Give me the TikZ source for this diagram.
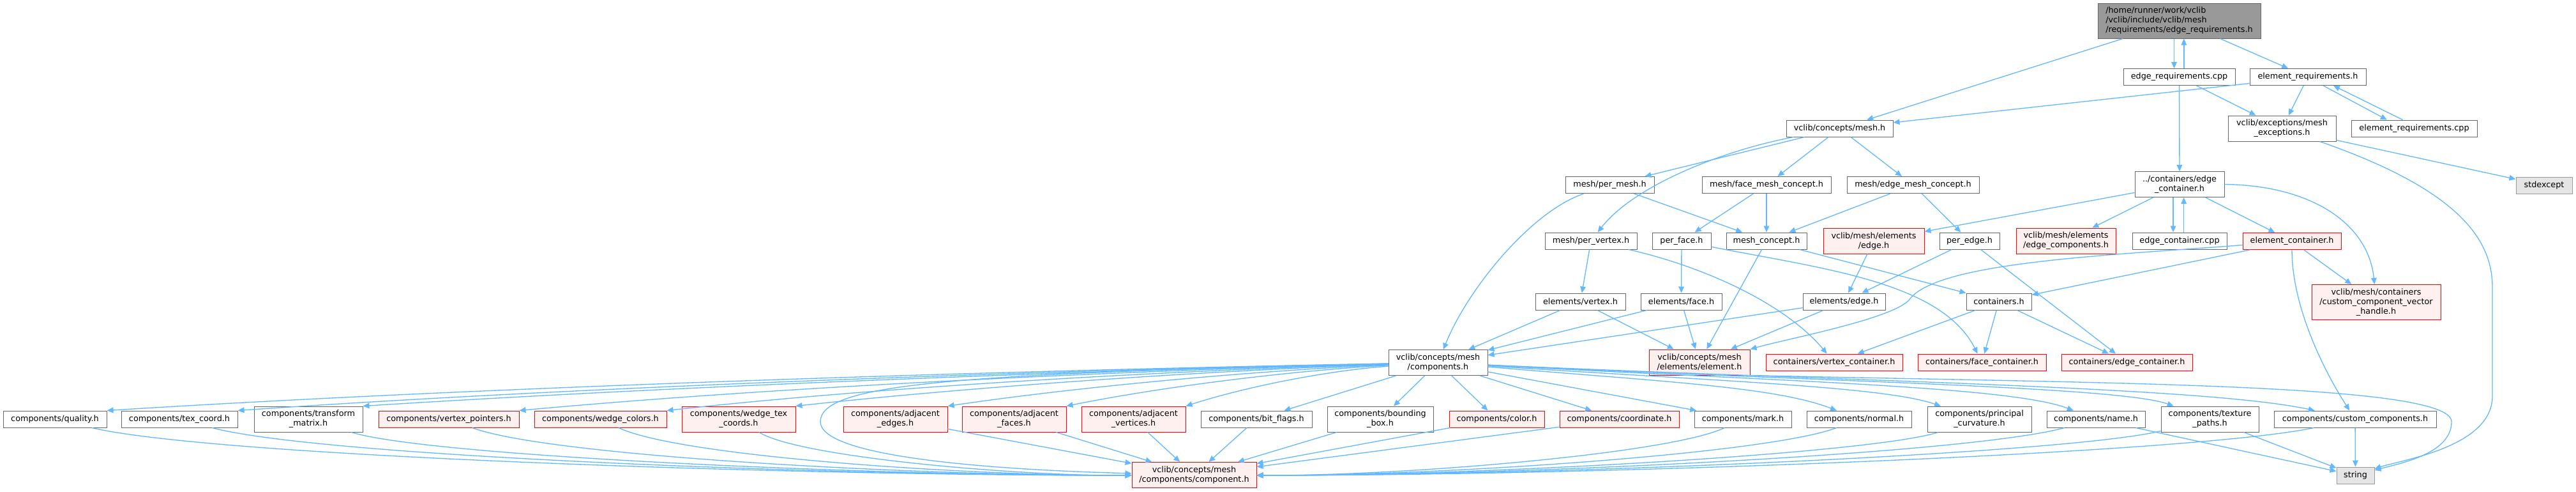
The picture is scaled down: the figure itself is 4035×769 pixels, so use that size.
\documentclass[tikz,border=0pt]{standalone}
\usepackage{fontspec}
\setmainfont{DejaVu Sans}
\usepackage{tikz}
\usetikzlibrary{arrows.meta}

\definecolor{depblue}{HTML}{63B8FF}
\definecolor{boxframe}{HTML}{666666}
\definecolor{rootfill}{HTML}{999999}
\definecolor{sysfill}{HTML}{E5E5E5}
\definecolor{sysframe}{HTML}{999999}
\definecolor{redfill}{HTML}{FFF0F0}

\tikzset{
  file/.style={draw=boxframe, fill=white, line width=0.75pt, inner sep=0pt, align=center,
    minimum height=19.5pt, font=\fontsize{9.6}{11.25}\selectfont},
  wd/.style={minimum width=#1*0.75pt},
  two/.style={minimum height=30pt},
  three/.style={minimum height=41.25pt},
  redfile/.style={file, draw=red, fill=redfill},
  rootfile/.style={file, draw=boxframe, fill=rootfill, align=left},
  sysfile/.style={file, draw=sysframe, fill=sysfill},
  dep/.style={draw=depblue, line width=1pt, -{Triangle[length=7.5pt,width=6.5pt]}},
}

\begin{document}
\begin{tikzpicture}[x=0.75pt, y=-0.75pt]
        \useasboundingbox (0,0) rectangle (4035,769);

        % Header and the files right below it
        \node[rootfile, wd=255, three] (top) at (3413.5,32.5) {/home/runner/work/vclib\\/vclib/include/vclib/mesh\\/requirements/edge\_requirements.h};
        \node[file, wd=175] (erc) at (3413.5,120.5) {edge\_requirements.cpp};
        \node[file, wd=182] (elr) at (3615,120.5) {element\_requirements.h};
        \node[file, wd=167] (cm) at (2881.5,201) {vclib/concepts/mesh.h};
        \node[file, wd=169, two] (exc) at (3574.5,201) {vclib/exceptions/mesh\\\_exceptions.h};
        \node[file, wd=197] (elrcpp) at (3781.5,201) {element\_requirements.cpp};
        \node[sysfile, wd=88] (stdexc) at (3985,290) {stdexcept};

        % Mesh concepts and containers
        \node[file, wd=139] (permesh) at (2521.5,289.5) {mesh/per\_mesh.h};
        \node[file, wd=202] (facemc) at (2767,289.5) {mesh/face\_mesh\_concept.h};
        \node[file, wd=207] (edgemc) at (2996.5,289.5) {mesh/edge\_mesh\_concept.h};
        \node[file, wd=140, two] (edgecont) at (3414,288.5) {../containers/edge\\\_container.h};

        \node[file, wd=144] (pervert) at (2492,377) {mesh/per\_vertex.h};
        \node[file, wd=92] (perface) at (2634,377) {per\_face.h};
        \node[file, wd=126] (meshc) at (2767,377) {mesh\_concept.h};
        \node[redfile, wd=158, two] (eledge) at (2935,377) {vclib/mesh/elements\\/edge.h};
        \node[file, wd=94] (peredge) at (3085,377) {per\_edge.h};
        \node[redfile, wd=156, two] (edgecomp) at (3236,377) {vclib/mesh/elements\\/edge\_components.h};
        \node[file, wd=148] (edgecontcpp) at (3414,377) {edge\_container.cpp};
        \node[redfile, wd=154] (elemcont) at (3590,377.5) {element\_container.h};

        \node[file, wd=141] (elvert) at (2475.5,472) {elements/vertex.h};
        \node[file, wd=127] (elface) at (2633.5,472) {elements/face.h};
        \node[file, wd=129] (eledgeh) at (2888.5,472) {elements/edge.h};
        \node[file, wd=102] (conts) at (3131,472) {containers.h};
        \node[redfile, wd=202, three] (ccvh) at (3722,473) {vclib/mesh/containers\\/custom\_component\_vector\\\_handle.h};

        \node[file, wd=155, two] (comps) at (2252.5,567.5) {vclib/concepts/mesh\\/components.h};
        \node[redfile, wd=158, two] (element) at (2662,567) {vclib/concepts/mesh\\/elements/element.h};
        \node[redfile, wd=214] (vertcont) at (2873,567) {containers/vertex\_container.h};
        \node[redfile, wd=201] (facecont) at (3104.5,567) {containers/face\_container.h};
        \node[redfile, wd=205] (edgecontr) at (3331.5,567) {containers/edge\_container.h};

        % Row of components
        \node[file, wd=162] (cquality) at (86,656) {components/quality.h};
        \node[file, wd=182] (ctexcoord) at (281,656) {components/tex\_coord.h};
        \node[file, wd=170, two] (ctransform) at (483,656) {components/transform\\\_matrix.h};
        \node[redfile, wd=220] (cvertptr) at (703,656) {components/vertex\_pointers.h};
        \node[redfile, wd=207] (cwedgecol) at (940.5,656) {components/wedge\_colors.h};
        \node[redfile, wd=178, two] (cwedgetex) at (1157,656) {components/wedge\_tex\\\_coords.h};
        \node[redfile, wd=163, two] (cadjedges) at (1402.5,656) {components/adjacent\\\_edges.h};
        \node[redfile, wd=163, two] (cadjfaces) at (1588.5,656) {components/adjacent\\\_faces.h};
        \node[redfile, wd=163, two] (cadjverts) at (1775.5,656) {components/adjacent\\\_vertices.h};
        \node[file, wd=174] (cbitflags) at (1968,656) {components/bit\_flags.h};
        \node[file, wd=166, two] (cbbox) at (2162,656) {components/bounding\\\_box.h};
        \node[redfile, wd=149] (ccolor) at (2344.5,656) {components/color.h};
        \node[redfile, wd=187] (ccoord) at (2536.5,656) {components/coordinate.h};
        \node[file, wd=152] (cmark) at (2730,656) {components/mark.h};
        \node[file, wd=164] (cnormal) at (2912,656) {components/normal.h};
        \node[file, wd=163, two] (cprincurv) at (3100.5,656) {components/principal\\\_curvature.h};
        \node[file, wd=154] (cname) at (3283,656) {components/name.h};
        \node[file, wd=153, two] (ctexpaths) at (3461.5,656) {components/texture\\\_paths.h};
        \node[file, wd=254] (ccustom) at (3689,656) {components/custom\_components.h};

        % Bottom row
        \node[redfile, wd=195, two] (comp) at (1870.5,743.5) {vclib/concepts/mesh\\/components/component.h};
        \node[sysfile, wd=59] (str) at (3689.5,744) {string};

        % Drawing the includes of the header
        \draw[dep] ([xshift=-6pt]top.south) -- ([xshift=-6pt]erc.north);
        \draw[dep] ([xshift=5.5pt]erc.north) -- ([xshift=5.5pt]top.south);
        \draw[dep] (top) -- (cm);
        \draw[dep] (top) -- (elr);
        \draw[dep] (erc) -- (exc);
        \draw[dep] (erc) -- (edgecont);
        \draw[dep] (elr) -- (cm);
        \draw[dep] (elr) -- (exc);
        \draw[dep] ([xshift=18pt]elr.south) -- ([xshift=-32pt]elrcpp.north);
        \draw[dep] ([xshift=-13.5pt]elrcpp.north) -- ([xshift=30pt]elr.south);
        \draw[dep] (exc) -- (stdexc);
        \draw[dep] (exc) .. controls (3860,300) and (3904,380) .. (3904,450) -- (3904,620) .. controls (3904,700) and (3760,720) .. (str);

        % Drawing the mesh concept includes
        \draw[dep] (cm) -- (permesh);
        \draw[dep] (cm) .. controls (2700,235) and (2560,290) .. (pervert);
        \draw[dep] (cm) -- (facemc);
        \draw[dep] (cm) -- (edgemc);
        \draw[dep] (permesh) .. controls (2400,330) and (2300,450) .. (comps);
        \draw[dep] (permesh) -- (meshc);
        \draw[dep] (facemc) -- (perface);
        \draw[dep] (facemc) -- (meshc);
        \draw[dep] (edgemc) -- (meshc);
        \draw[dep] (edgemc) -- (peredge);

        % Drawing the edge container includes
        \draw[dep] (edgecont) -- (eledge);
        \draw[dep] (edgecont) -- (edgecomp);
        \draw[dep] ([xshift=-7.5pt]edgecont.south) -- ([xshift=-7.5pt]edgecontcpp.north);
        \draw[dep] ([xshift=5pt]edgecontcpp.north) -- ([xshift=5pt]edgecont.south);
        \draw[dep] (edgecont) -- (elemcont);
        \draw[dep] (edgecont.east) .. controls (3620,290) and (3710,350) .. (ccvh);

        \draw[dep] (pervert) -- (elvert);
        \draw[dep] (pervert) .. controls (2680,420) and (2800,480) .. (vertcont);
        \draw[dep] (perface) -- (elface);
        \draw[dep] (perface) .. controls (2850,420) and (3040,440) .. (facecont);
        \draw[dep] (meshc) -- (element);
        \draw[dep] (meshc) -- (conts);
        \draw[dep] (eledge) -- (eledgeh);
        \draw[dep] (peredge) -- (eledgeh);
        \draw[dep] (peredge) -- (edgecontr);
        \draw[dep] (elemcont) -- (conts);
        \draw[dep] (elemcont) .. controls (3300,400) and (3030,410) .. (2990,470) .. controls (2960,500) and (2800,530) .. (element.north east);
        \draw[dep] (elemcont) -- (ccvh);
        \draw[dep] (elemcont) .. controls (3590,480) and (3640,580) .. (ccustom);

        \foreach \n in {elvert, elface, eledgeh}
        {
        \draw[dep] (\n) -- (comps);
        \draw[dep] (\n) -- (element);
        }
        \foreach \n in {vertcont, facecont, edgecontr}
        {
        \draw[dep] (conts) -- (\n);
        }
        \draw[dep] (element.south east) .. controls (3300,600) and (3840,600) .. (3840,660) .. controls (3840,710) and (3760,725) .. (str);

        % Drawing the components includes, left side
        \foreach \n/\xr in {cquality/167, ctexcoord/372, ctransform/568, cvertptr/813, cwedgecol/1044, cwedgetex/1246, cadjedges/1484, cadjfaces/1670, cadjverts/1857}
        {
        \draw[dep] (comps) .. controls ({2175-0.3*(2175-\xr)},580) and ({\xr+0.3*(2175-\xr)},605) .. (\n.north east);
        }
        \draw[dep] (comps) .. controls (1500,585) and (1285,600) .. (1285,660) .. controls (1285,715) and (1550,735) .. (comp);

        % Drawing the components includes, right side
        \foreach \n in {cbitflags, cbbox, ccolor, ccoord, cmark}
        {
        \draw[dep] (comps) -- (\n);
        }
        \foreach \n/\a/\b in {cnormal/2600/2780, cprincurv/2700/2950, cname/2800/3150, ctexpaths/2850/3320, ccustom/2900/3450}
        {
        \draw[dep] (comps) .. controls (\a,597) and (\b,605) .. (\n);
        }

        % Each component includes component.h
        \foreach \n/\x in {cquality/86, ctexcoord/281, ctransform/483, cvertptr/703, cwedgecol/940.5, cwedgetex/1157}
        {
        \draw[dep] (\n) .. controls ({\x+0.15*(1773-\x)},715) and ({1773-0.3*(1773-\x)},745) .. (comp);
        }
        \foreach \n in {cadjedges, cadjfaces, cadjverts, cbitflags, cbbox, ccolor, ccoord}
        {
        \draw[dep] (\n) -- (comp);
        }
        \foreach \n/\x in {cmark/2730, cnormal/2912, cprincurv/3100.5, cname/3283, ctexpaths/3461.5, ccustom/3689}
        {
        \draw[dep] (\n) .. controls ({\x-0.15*(\x-1968)},710) and ({1968+0.3*(\x-1968)},745) .. (comp);
        }

        % Adding the includes of string
        \foreach \n in {cname, ctexpaths, ccustom}
        {
        \draw[dep] (\n) -- (str);
        }
\end{tikzpicture}
\end{document}
